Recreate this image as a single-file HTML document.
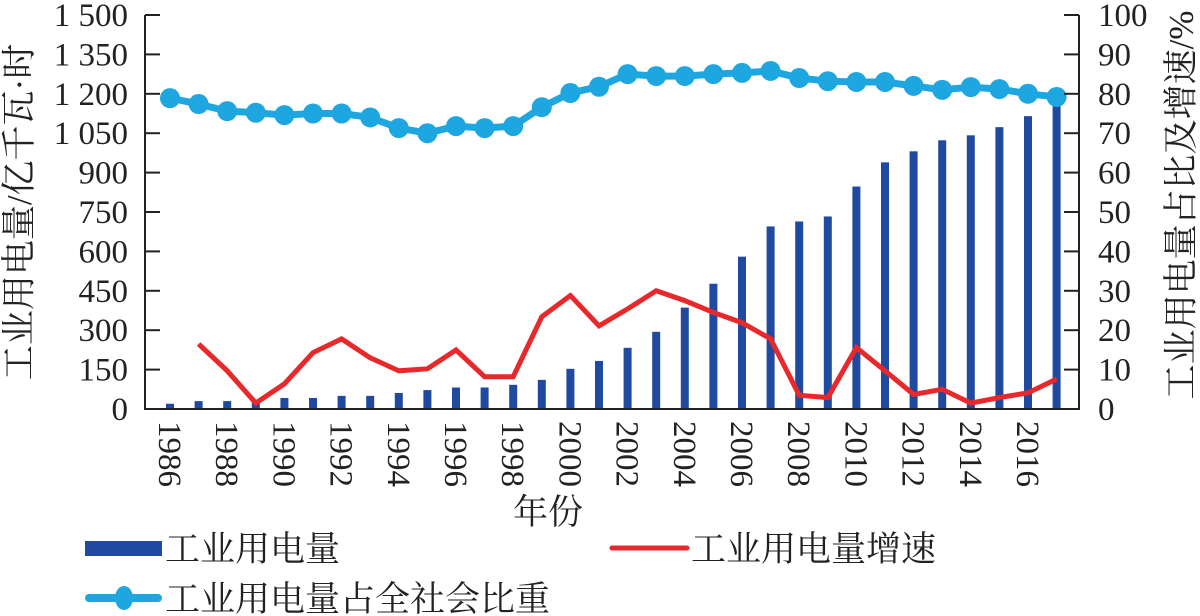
<!DOCTYPE html>
<html><head><meta charset="utf-8"><style>
html,body{margin:0;padding:0;background:#fff;}
svg{display:block;font-family:"Liberation Serif","Noto Serif CJK SC",serif;}
</style></head><body>
<svg id="c" width="1200" height="616" viewBox="0 0 1200 616"></svg>
<script>
const years=[1986,1987,1988,1989,1990,1991,1992,1993,1994,1995,1996,1997,1998,1999,2000,2001,2002,2003,2004,2005,2006,2007,2008,2009,2010,2011,2012,2013,2014,2015,2016,2017];
const consumption=[20,30,30,35,42,42,50,50,61,72,82,82,92,111,153,183,233,294,386,477,580,695,714,733,847,939,981,1023,1042,1073,1115,1175];
const growth=[null,16.5,9.7,1.5,6.4,14.3,17.8,13,9.7,10.2,15,8.2,8.2,23.4,28.8,21.1,25.4,30,27.5,24.5,21.9,17.8,3.5,2.9,15.6,9.7,3.7,5,1.5,2.9,4.1,7.6];
const share=[78.9,77.4,75.6,75.2,74.6,75,75,74,71.3,70,71.8,71.3,71.8,76.6,80.2,81.8,85,84.5,84.5,85,85.3,85.8,84,83.2,83,83,82,81,81.7,81.2,80,79.2];
const leftTicks=[0,150,300,450,600,750,900,1050,1200,1350,1500];
const leftTickLabels=["0","150","300","450","600","750","900","1 050","1 200","1 350","1 500"];
const rightTicks=[0,10,20,30,40,50,60,70,80,90,100];

const NS="http://www.w3.org/2000/svg";
const svg=document.getElementById('c');
function mk(tag,attrs,parent){const e=document.createElementNS(NS,tag);for(const k in attrs)e.setAttribute(k,attrs[k]);(parent||svg).appendChild(e);return e;}
const X0=145,X1=1079,Y0=409,Y1=15;
const x=i=>170+i*28.6;
const yL=v=>Y0-(v/1500)*(Y0-Y1);
const yR=v=>Y0-(v/100)*(Y0-Y1);

const gb=mk('g',{});


consumption.forEach((v,i)=>{
  const r=mk('rect',{x:x(i)-4,y:yL(v),width:8,height:Y0-yL(v),fill:'#1f4aa0'},gb);
  
  
});
let d='';growth.forEach((v,i)=>{if(v===null)return;d+=(d?'L':'M')+x(i)+' '+yR(v);});
const gl=mk('path',{d:d,fill:'none',stroke:'#e8282b','stroke-width':5});


let d2='';share.forEach((v,i)=>{d2+=(i?'L':'M')+x(i)+' '+yR(v);});
const sl=mk('path',{d:d2,fill:'none',stroke:'#1ea6e0','stroke-width':7});


share.forEach((v,i)=>{
  const c=mk('circle',{cx:x(i),cy:yR(v),r:10,fill:'#1ea6e0'});
  
  
});
const ax=mk('path',{d:`M${X0} ${Y1}V${Y0}H${X1}V${Y1}`,fill:'none',stroke:'#222','stroke-width':2});


leftTicks.forEach((v,i)=>{
  mk('line',{x1:X0,x2:X0+15,y1:yL(v),y2:yL(v),stroke:'#222','stroke-width':2});
  const t=mk('text',{x:128,y:yL(v)+11,'text-anchor':'end','font-size':33,fill:'#222'});
  t.textContent=leftTickLabels[i];
  
  
});
rightTicks.forEach(v=>{
  mk('line',{x1:X1-15,x2:X1,y1:yR(v),y2:yR(v),stroke:'#222','stroke-width':2});
  const t=mk('text',{x:1098,y:yR(v)+11,'font-size':33,fill:'#222'});
  t.textContent=v;
  
  
});
years.forEach((yr,i)=>{
  if(i%2)return;
  const t=mk('text',{x:0,y:0,'font-size':33,fill:'#222',transform:`translate(${x(i)-11},421) rotate(90)`});
  t.textContent=yr;
  
  
});
</script>
<script>
(function(){
const NS="http://www.w3.org/2000/svg";const svg=document.getElementById('c');
function mk(tag,attrs){const e=document.createElementNS(NS,tag);for(const k in attrs)e.setAttribute(k,attrs[k]);svg.appendChild(e);return e;}
let t=mk('text',{x:548,y:524,'text-anchor':'middle','font-size':35,fill:'#222'});t.textContent='年份';


t=mk('text',{'text-anchor':'middle','font-size':35,fill:'#222',transform:'translate(31,212) rotate(-90)'});t.textContent='工业用电量/亿千瓦·时';


t=mk('text',{'text-anchor':'middle','font-size':35,fill:'#222',transform:'translate(1193,205) rotate(-90)'});t.textContent='工业用电量占比及增速/%';


let e=mk('rect',{x:85,y:541,width:77,height:15,fill:'#1f4aa0'});


t=mk('text',{x:165,y:561,'font-size':35,fill:'#222'});t.textContent='工业用电量';


e=mk('line',{x1:612,x2:687,y1:548,y2:548,stroke:'#e8282b','stroke-width':5,'stroke-linecap':'round'});


t=mk('text',{x:691,y:561,'font-size':35,fill:'#222'});t.textContent='工业用电量增速';


e=mk('line',{x1:89,x2:158,y1:598,y2:598,stroke:'#1ea6e0','stroke-width':8,'stroke-linecap':'round'});


e=mk('ellipse',{cx:124,cy:598,rx:9,ry:12,fill:'#1ea6e0'});


t=mk('text',{x:165,y:611,'font-size':35,fill:'#222'});t.textContent='工业用电量占全社会比重';


})();
</script>
</body></html>
